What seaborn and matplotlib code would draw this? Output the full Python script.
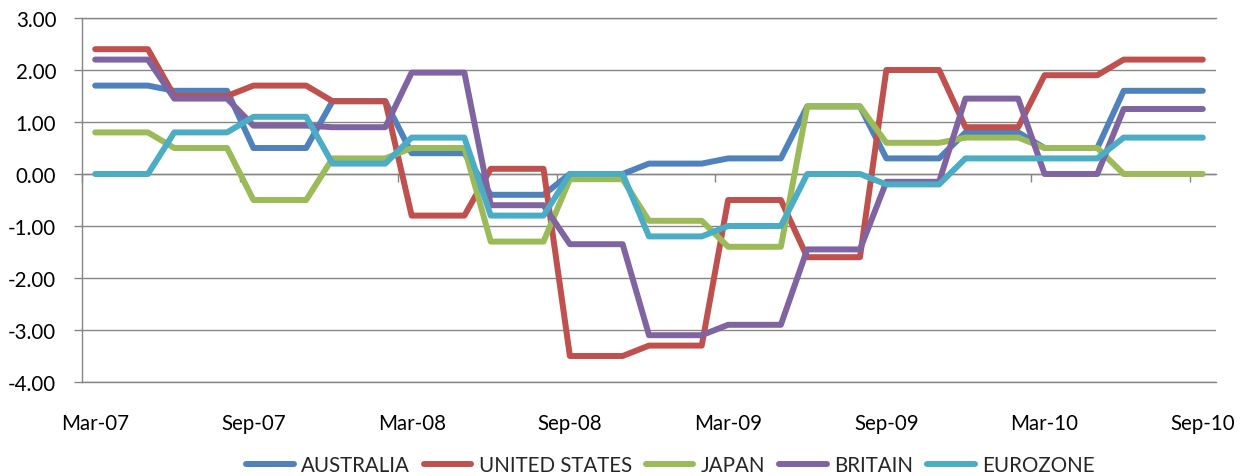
import numpy as np
import pandas as pd
import matplotlib
matplotlib.use("Agg")
import matplotlib.pyplot as plt
import matplotlib.ticker as mticker
import seaborn as sns

# Monthly category labels, Mar-07 .. Sep-10
months = [
    "Mar-07", "Apr-07", "May-07", "Jun-07", "Jul-07", "Aug-07", "Sep-07", "Oct-07", "Nov-07", "Dec-07",
    "Jan-08", "Feb-08", "Mar-08", "Apr-08", "May-08", "Jun-08", "Jul-08", "Aug-08", "Sep-08", "Oct-08",
    "Nov-08", "Dec-08", "Jan-09", "Feb-09", "Mar-09", "Apr-09", "May-09", "Jun-09", "Jul-09", "Aug-09",
    "Sep-09", "Oct-09", "Nov-09", "Dec-09", "Jan-10", "Feb-10", "Mar-10", "Apr-10", "May-10", "Jun-10",
    "Jul-10", "Aug-10", "Sep-10",
]

australia = [1.7, 1.7, 1.7, 1.6, 1.6, 1.6, 0.5, 0.5, 0.5, 1.4, 1.4, 1.4,
             0.4, 0.4, 0.4, -0.4, -0.4, -0.4, 0.0, 0.0, 0.0, 0.2, 0.2, 0.2,
             0.3, 0.3, 0.3, 1.3, 1.3, 1.3, 0.3, 0.3, 0.3, 0.8, 0.8, 0.8,
             0.5, 0.5, 0.5, 1.6, 1.6, 1.6, 1.6]
united_states = [2.4, 2.4, 2.4, 1.5, 1.5, 1.5, 1.7, 1.7, 1.7, 1.4, 1.4, 1.4,
                 -0.8, -0.8, -0.8, 0.1, 0.1, 0.1, -3.5, -3.5, -3.5, -3.3, -3.3, -3.3,
                 -0.5, -0.5, -0.5, -1.6, -1.6, -1.6, 2.0, 2.0, 2.0, 0.9, 0.9, 0.9,
                 1.9, 1.9, 1.9, 2.2, 2.2, 2.2, 2.2]
japan = [0.8, 0.8, 0.8, 0.5, 0.5, 0.5, -0.5, -0.5, -0.5, 0.3, 0.3, 0.3,
         0.5, 0.5, 0.5, -1.3, -1.3, -1.3, -0.1, -0.1, -0.1, -0.9, -0.9, -0.9,
         -1.4, -1.4, -1.4, 1.3, 1.3, 1.3, 0.6, 0.6, 0.6, 0.7, 0.7, 0.7,
         0.5, 0.5, 0.5, 0.0, 0.0, 0.0, 0.0]
britain = [2.2, 2.2, 2.2, 1.45, 1.45, 1.45, 0.93, 0.93, 0.93, 0.9, 0.9, 0.9,
           1.95, 1.95, 1.95, -0.6, -0.6, -0.6, -1.35, -1.35, -1.35, -3.1, -3.1, -3.1,
           -2.9, -2.9, -2.9, -1.45, -1.45, -1.45, -0.15, -0.15, -0.15, 1.45, 1.45, 1.45,
           0.0, 0.0, 0.0, 1.25, 1.25, 1.25, 1.25]
eurozone = [0.0, 0.0, 0.0, 0.8, 0.8, 0.8, 1.1, 1.1, 1.1, 0.2, 0.2, 0.2,
            0.7, 0.7, 0.7, -0.8, -0.8, -0.8, 0.0, 0.0, 0.0, -1.2, -1.2, -1.2,
            -1.0, -1.0, -1.0, 0.0, 0.0, 0.0, -0.2, -0.2, -0.2, 0.3, 0.3, 0.3,
            0.3, 0.3, 0.3, 0.7, 0.7, 0.7, 0.7]

series_names = ["AUSTRALIA", "UNITED STATES", "JAPAN", "BRITAIN", "EUROZONE"]
series_values = [australia, united_states, japan, britain, eurozone]
colors = ["#4F81BD", "#C0504D", "#9BBB59", "#8064A2", "#4BACC6"]

frames = []
for name, vals in zip(series_names, series_values):
    frames.append(pd.DataFrame({"pos": np.arange(len(months)), "month": months,
                                "value": vals, "series": name}))
data = pd.concat(frames, ignore_index=True)

sns.set_theme(style="white")
plt.rcParams["font.family"] = ["Lato", "DejaVu Sans"]

GRID = "#868686"
FS = 14.8

W, H = 1246, 477
fig = plt.figure(figsize=(W / 100, H / 100), dpi=100)
ax = fig.add_axes([82 / W, 1 - 383 / H, (1216 - 82) / W, (383 - 19) / H])

sns.lineplot(data=data, x="pos", y="value", hue="series", hue_order=series_names,
             palette=dict(zip(series_names, colors)), linewidth=4.3, sort=False,
             estimator=None, legend=False, ax=ax, zorder=3)
for ln in ax.lines:
    ln.set_solid_capstyle("round")
    ln.set_solid_joinstyle("round")

ax.set_xlim(-0.5, len(months) - 0.5)
ax.set_ylim(-4, 3)
ax.set_xlabel("")
ax.set_ylabel("")

# y axis: two-decimal labels, horizontal gridlines
ax.yaxis.set_major_locator(mticker.MultipleLocator(1))
ax.yaxis.set_major_formatter(mticker.FormatStrFormatter("%.2f"))
ax.yaxis.grid(True, color=GRID, linewidth=1.0)
ax.xaxis.grid(False)
ax.tick_params(axis="y", which="major", left=True, direction="out", length=5.5,
               width=1.0, color=GRID, labelsize=FS, labelcolor="black", pad=13)

ax.spines["right"].set_visible(False)
for side in ["left", "top"]:
    ax.spines[side].set_color(GRID)
    ax.spines[side].set_linewidth(1.0)

# horizontal axis crosses at zero, tick marks between category groups
ax.spines["bottom"].set_position(("data", 0))
ax.spines["bottom"].set_color(GRID)
ax.spines["bottom"].set_linewidth(1.0)
ax.set_xticks(np.arange(-0.5, len(months) - 0.5, 6))
ax.tick_params(axis="x", which="major", bottom=True, direction="out", length=5.5,
               width=1.0, color=GRID, labelbottom=False)

# category labels along the bottom of the plot area
lab = ax.secondary_xaxis("bottom")
label_pos = np.arange(0, len(months), 6)
lab.set_xticks(label_pos)
lab.set_xticklabels([months[i] for i in label_pos])
lab.tick_params(axis="x", length=0, pad=22, labelsize=FS, labelcolor="black")
lab.spines["bottom"].set_color(GRID)
lab.spines["bottom"].set_linewidth(1.0)

handles = [plt.Line2D([], [], color=c, linewidth=4.3, solid_capstyle="round")
           for c in colors]
fig.legend(handles, series_names, loc="center", bbox_to_anchor=(0.538, 1 - 466 / H),
           ncol=5, frameon=False, fontsize=FS, handlelength=2.3, handletextpad=0.35,
           columnspacing=0.7, borderaxespad=0, borderpad=0)

fig.savefig("out.png", dpi=100, facecolor="white")
